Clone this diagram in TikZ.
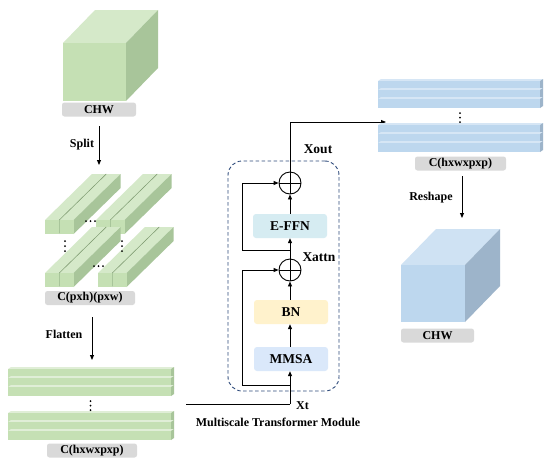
\documentclass[tikz,border=0pt]{standalone}
\usepackage{fontspec}
\setmainfont{Liberation Serif}
\usetikzlibrary{arrows.meta,calc}
\definecolor{gfront}{HTML}{C5E0B4}
\definecolor{gtop}{HTML}{D5E9C9}
\definecolor{gside}{HTML}{A8C59A}
\definecolor{gedge}{HTML}{7E9A70}
\definecolor{gline}{HTML}{E0EED7}
\definecolor{bfront}{HTML}{BDD7EE}
\definecolor{btop}{HTML}{CFE2F3}
\definecolor{bside}{HTML}{9DB4CA}
\definecolor{bline}{HTML}{D6E6F5}
\definecolor{lblgray}{HTML}{D9D9D9}
\definecolor{frameblue}{HTML}{2F4B7C}
\definecolor{ffnfill}{HTML}{D6ECF2}
\definecolor{bnfill}{HTML}{FFF2CC}
\definecolor{mmsafill}{HTML}{DAE8FA}
% green bar: #1 = left x, #2 = bottom y of front face
\newcommand\gbarx[2]{%
  \fill[gtop] (#1,#2-14) -- ++(47,-46) -- ++(14,0) -- ++(-47,46) -- cycle;
  \fill[gside] (#1+14,#2-14) -- ++(47,-46) -- ++(0,14) -- ++(-47,46) -- cycle;
  \fill[gfront] (#1,#2-14) rectangle ++(14,14);}
% pair of bars with a dark seam between their top faces
\newcommand\gpairx[2]{%
  \gbarx{#1}{#2}\gbarx{#1+14.6}{#2}%
  \draw[gedge,line width=0.45pt] (#1+14.3,#2-14) -- ++(47,-46);}
% one stripe: #1 x0, #2 x1, #3 y top, #4 top col, #5 front col, #6 side col
\newcommand\stripex[6]{%
  \fill[#4] (#1,#3+2) -- (#1+3,#3) -- (#2+3,#3) -- (#2,#3+2) -- cycle;
  \fill[#6] (#2,#3+2) -- (#2+3,#3) -- (#2+3,#3+9) -- (#2,#3+11) -- cycle;
  \fill[#5] (#1,#3+2) rectangle (#2,#3+11);}
\newcommand\slabx[6]{%
  \stripex{#1}{#2}{#3}{#4}{#5}{#6}%
  \stripex{#1}{#2}{#3+9}{#4}{#5}{#6}%
  \stripex{#1}{#2}{#3+18}{#4}{#5}{#6}}
\begin{document}
\begin{tikzpicture}[x=1pt,y=-1pt,
  lbl/.style={fill=lblgray,rounded corners=2.5pt,inner sep=0pt,minimum height=14pt,
    font=\fontsize{12}{12}\selectfont\bfseries},
  txt/.style={inner sep=0pt,font=\fontsize{12}{12}\selectfont\bfseries},
  bigtxt/.style={inner sep=0pt,font=\fontsize{13.5}{13.5}\selectfont\bfseries},
  mbox/.style={rounded corners=3pt,minimum width=74pt,minimum height=24pt,inner sep=0pt,
    font=\fontsize{13.5}{13.5}\selectfont\bfseries},
  plus/.style={circle,draw,line width=0.9pt,minimum size=22pt,inner sep=0pt,
    path picture={\draw[line width=0.9pt] (path picture bounding box.north) -- (path picture bounding box.south)
      (path picture bounding box.west) -- (path picture bounding box.east);}},
  conn/.style={line width=0.9pt},
  arr/.style={line width=0.9pt,-{Triangle[length=5pt,width=4pt]}},
  dotm/.style={fill=black},
  frame/.style={draw=frameblue,line width=0.9pt,dash pattern=on 3.5pt off 2.5pt,rounded corners=14pt,
    minimum width=111pt,minimum height=230pt,inner sep=0pt}]
\useasboundingbox (0,0) rectangle (550,467);
\fill[white] (0,0) rectangle (550,467);

% ---- green cube CHW
\fill[gtop] (63,43) -- (95,10) -- (158,10) -- (126,43) -- cycle;
\fill[gside] (126,43) -- (158,10) -- (158,68) -- (126,101) -- cycle;
\fill[gfront] (63,43) rectangle (126,101);
\node[lbl,minimum width=74pt] (l1) at (99,109.5) {CHW};

% ---- split arrow
\coordinate (sp1) at (99,126);
\coordinate (sp2) at (99,165);
\draw[arr] (sp1) -- (sp2);
\node[txt] (tsplit) at (82,145) {Split};

% ---- split bars
\gpairx{45}{234}
\gpairx{96}{234}
\gpairx{45}{287}
\gpairx{98}{287}
\foreach \p in {(86,221),(90.5,221),(95,221),(94,266),(98.5,266),(103,266),
  (65,241),(65,246),(65,251),(122,241),(122,246),(122,251)}
  \fill[dotm] \p circle (1pt);
\node[lbl,minimum width=90pt] (l2) at (90,298) {C(pxh)(pxw)};

% ---- flatten
\coordinate (fl1) at (92,317);
\coordinate (fl2) at (92,360);
\draw[arr] (fl1) -- (fl2);
\node[txt] (tflat) at (64,334) {Flatten};

% ---- left slabs
\slabx{8}{171}{367}{gline}{gfront}{gside}
\slabx{8}{171}{411}{gline}{gfront}{gside}
\foreach \p in {(90.5,401),(90.5,405.5),(90.5,410)} \fill[dotm] \p circle (1pt);
\node[lbl,minimum width=90pt] (l3) at (92,450.5) {C(hxwxpxp)};

% ---- transformer module
\node[frame] (fr) at (283.5,276) {};
\node[mbox,fill=ffnfill] (effn) at (290,226) {E-FFN};
\node[mbox,fill=bnfill] (bn) at (291,312) {BN};
\node[mbox,fill=mmsafill] (mmsa) at (291,359) {MMSA};
\node[plus] (c1) at (290,183) {};
\node[plus] (c2) at (290,270) {};
\coordinate (xt0) at (186,404);
\coordinate (xtc) at (290,404);
\draw[conn] (xt0) -- (xtc);
\draw[arr] (xtc) -- (xtc |- mmsa.south);
\draw[arr] (mmsa.north -| xtc) -- (bn.south -| xtc);
\draw[arr] (bn.north -| xtc) -- (c2.south);
% residual 1
\coordinate (ra) at (290,385);
\coordinate (rb) at (242,385);
\coordinate (rc) at (242,270);
\draw[arr] (ra) -- (rb) -- (rc) -- (c2.west);
% to E-FFN
\draw[arr] (c2.north) -- (effn.south -| c2);
\coordinate (qa) at (290,250);
\coordinate (qb) at (242,250);
\coordinate (qc) at (242,183);
\draw[arr] (qa) -- (qb) -- (qc) -- (c1.west);
\draw[arr] (effn.north -| c1) -- (c1.south);
% Xout
\coordinate (xo1) at (290,122);
\coordinate (xo2) at (386,122);
\draw[arr] (c1.north) -- (xo1) -- (xo2);
\node[bigtxt] (txout) at (318,149) {Xout};
\node[bigtxt] (txattn) at (319,257) {Xattn};
\node[txt] (txt) at (302.5,405.5) {Xt};
\node[txt] (tmod) at (278,422) {Multiscale Transformer Module};

% ---- right slabs
\slabx{378}{540}{79}{bline}{bfront}{bside}
\slabx{378}{540}{123}{bline}{bfront}{bside}
\foreach \p in {(460,113),(460,117.5),(460,122)} \fill[dotm] \p circle (1pt);
\node[lbl,minimum width=91pt] (l4) at (460.5,163.5) {C(hxwxpxp)};

% ---- reshape
\coordinate (rs1) at (462,176);
\coordinate (rs2) at (462,218);
\draw[arr] (rs1) -- (rs2);
\node[txt] (tresh) at (431,198) {Reshape};

% ---- blue cube
\fill[btop] (401,265) -- (436,229) -- (500,229) -- (465,265) -- cycle;
\fill[bside] (465,265) -- (500,229) -- (500,286) -- (465,322) -- cycle;
\fill[bfront] (401,265) rectangle (465,322);
\node[lbl,minimum width=73pt] (l5) at (437.5,335.5) {CHW};
\end{tikzpicture}
\end{document}
